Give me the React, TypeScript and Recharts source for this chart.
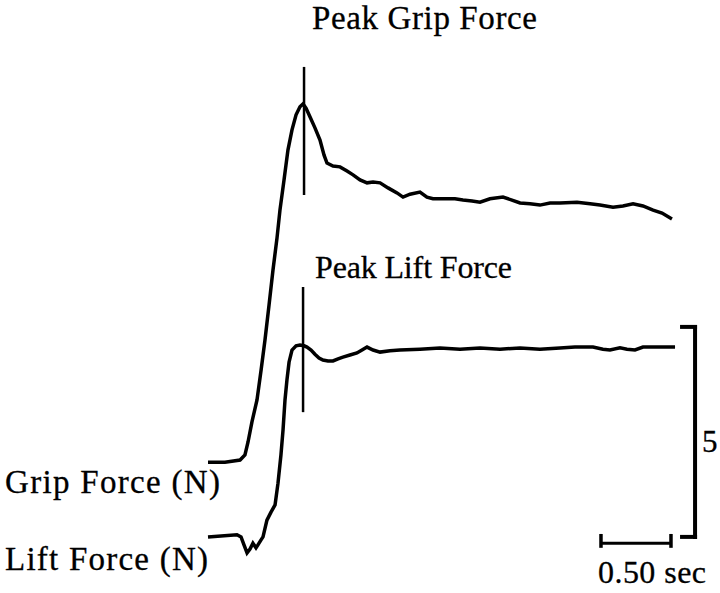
import { LineChart, Line, XAxis, YAxis, ReferenceLine } from "recharts";

// grip force trace: time (s) and force (N)
const gripTime = [
  0, 0.121, 0.229, 0.264, 0.286, 0.314, 0.35, 0.379, 0.407, 0.436, 0.464, 0.493, 0.514, 0.543, 0.571, 0.6,
  0.629, 0.657, 0.679, 0.7, 0.729, 0.764, 0.8, 0.829, 0.85, 0.893, 0.943, 0.993, 1.036, 1.086, 1.136, 1.179,
  1.229, 1.286, 1.35, 1.393, 1.443, 1.514, 1.564, 1.607, 1.693, 1.764, 1.821, 1.886, 1.943, 2.014, 2.107,
  2.171, 2.229, 2.3, 2.371, 2.443, 2.514, 2.636, 2.729, 2.8, 2.893, 2.964, 3.036, 3.107, 3.179, 3.243, 3.314,
];
const gripForce = [
  0.33, 0.33, 0.38, 0.5, 0.81, 1.29, 1.81, 2.52, 3.24, 4.07, 4.9, 5.67, 6.33, 7.05, 7.76, 8.24,
  8.6, 8.79, 8.86, 8.76, 8.55, 8.29, 8.0, 7.64, 7.45, 7.38, 7.36, 7.26, 7.17, 7.05, 6.98, 7.0,
  6.98, 6.86, 6.74, 6.64, 6.71, 6.76, 6.64, 6.6, 6.6, 6.6, 6.57, 6.55, 6.52, 6.6, 6.64,
  6.57, 6.5, 6.48, 6.45, 6.5, 6.5, 6.52, 6.48, 6.45, 6.4, 6.43, 6.48, 6.43, 6.33, 6.26, 6.12,
];

// lift force trace
const liftTime = [
  0, 0.207, 0.236, 0.257, 0.279, 0.3, 0.321, 0.343, 0.357, 0.379, 0.393, 0.421, 0.45, 0.479, 0.5, 0.521,
  0.536, 0.55, 0.564, 0.579, 0.6, 0.629, 0.657, 0.686, 0.707, 0.736, 0.764, 0.793, 0.821, 0.857, 0.893,
  0.929, 0.964, 1.014, 1.064, 1.1, 1.136, 1.179, 1.229, 1.3, 1.371, 1.514, 1.657, 1.8, 1.943, 2.086,
  2.229, 2.371, 2.514, 2.621, 2.75, 2.821, 2.871, 2.943, 2.993, 3.05, 3.107, 3.229, 3.336,
];
const liftForce = [
  0.05, 0.1, 0.05, -0.14, -0.33, -0.24, -0.1, -0.21, -0.14, -0.02, 0.05, 0.45, 0.64, 0.81, 1.33, 2.0,
  2.6, 3.31, 3.79, 4.21, 4.5, 4.6, 4.62, 4.6, 4.57, 4.5, 4.4, 4.31, 4.26, 4.24, 4.24,
  4.29, 4.33, 4.38, 4.43, 4.5, 4.57, 4.5, 4.45, 4.48, 4.5, 4.52, 4.55, 4.52, 4.55, 4.52,
  4.55, 4.52, 4.55, 4.57, 4.57, 4.52, 4.5, 4.55, 4.52, 4.5, 4.57, 4.57, 4.57,
];

// peak markers (time, force extent)
const peakGripT = 0.686;
const peakGripSpan = [6.69, 9.74];
const peakLiftT = 0.679;
const peakLiftSpan = [3.02, 6.0];

// scale bars: 5 N and 0.50 s
const forceBar = [0.05, 5.05];
const forceBarX = 3.479;
const timeBar = [2.807, 3.307];
const timeBarY = -0.1;

const gripData = gripTime.map((t, i) => ({ t, grip: gripForce[i] }));
const liftData = liftTime.map((t, i) => ({ t, lift: liftForce[i] }));

const ink = "#000";
const serif = "'Liberation Serif', 'Times New Roman', serif";

export default function App() {
  return (
    <div style={{ position: "absolute", left: 0, top: 0, width: 720, height: 593, background: "#fff" }}>
      <LineChart width={720} height={593} margin={{ top: 56, right: 22, bottom: 33, left: 208 }}>
        <XAxis type="number" dataKey="t" domain={[0, 3.5]} hide allowDuplicatedCategory={false} />
        <YAxis yAxisId="grip" domain={[-2, 10]} hide />
        <YAxis yAxisId="lift" domain={[-0.5, 11.5]} hide />
        <Line
          yAxisId="grip"
          data={gripData}
          dataKey="grip"
          stroke={ink}
          strokeWidth={3.5}
          dot={false}
          type="linear"
          isAnimationActive={false}
        />
        <Line
          yAxisId="lift"
          data={liftData}
          dataKey="lift"
          stroke={ink}
          strokeWidth={3.5}
          dot={false}
          type="linear"
          isAnimationActive={false}
        />
        <ReferenceLine
          yAxisId="grip"
          segment={[{ x: peakGripT, y: peakGripSpan[0] }, { x: peakGripT, y: peakGripSpan[1] }]}
          stroke={ink}
          strokeWidth={2.5}
        />
        <ReferenceLine
          yAxisId="lift"
          segment={[{ x: peakLiftT, y: peakLiftSpan[0] }, { x: peakLiftT, y: peakLiftSpan[1] }]}
          stroke={ink}
          strokeWidth={2.5}
        />
        {/* 5 N bracket */}
        <ReferenceLine
          yAxisId="lift"
          segment={[{ x: forceBarX, y: forceBar[0] }, { x: forceBarX, y: forceBar[1] }]}
          stroke={ink}
          strokeWidth={4}
          strokeLinecap="square"
        />
        <ReferenceLine
          yAxisId="lift"
          segment={[{ x: forceBarX - 0.093, y: forceBar[1] }, { x: forceBarX, y: forceBar[1] }]}
          stroke={ink}
          strokeWidth={4}
          strokeLinecap="square"
        />
        <ReferenceLine
          yAxisId="lift"
          segment={[{ x: forceBarX - 0.093, y: forceBar[0] }, { x: forceBarX, y: forceBar[0] }]}
          stroke={ink}
          strokeWidth={4}
          strokeLinecap="square"
        />
        {/* 0.50 sec bar */}
        <ReferenceLine
          yAxisId="lift"
          segment={[{ x: timeBar[0], y: timeBarY }, { x: timeBar[1], y: timeBarY }]}
          stroke={ink}
          strokeWidth={3}
        />
        <ReferenceLine
          yAxisId="lift"
          segment={[{ x: timeBar[0], y: 0.12 }, { x: timeBar[0], y: -0.21 }]}
          stroke={ink}
          strokeWidth={3.5}
        />
        <ReferenceLine
          yAxisId="lift"
          segment={[{ x: timeBar[1], y: 0.12 }, { x: timeBar[1], y: -0.21 }]}
          stroke={ink}
          strokeWidth={3.5}
        />
      </LineChart>
      <svg
        width={720}
        height={593}
        style={{ position: "absolute", left: 0, top: 0, pointerEvents: "none" }}
        fontFamily={serif}
        fill={ink}
        stroke={ink}
        strokeWidth={0.3}
      >
        <text x={312} y={29} fontSize={33} textLength={225} lengthAdjust="spacing">Peak Grip Force</text>
        <text x={315} y={278} fontSize={32} textLength={197} lengthAdjust="spacing">Peak Lift Force</text>
        <text x={5} y={493} fontSize={33} textLength={215} lengthAdjust="spacing">Grip Force (N)</text>
        <text x={5} y={570} fontSize={33} textLength={203} lengthAdjust="spacing">Lift Force (N)</text>
        <text x={702} y={452} fontSize={31}>5</text>
        <text x={598} y={583} fontSize={32} textLength={108} lengthAdjust="spacing">0.50 sec</text>
      </svg>
    </div>
  );
}
